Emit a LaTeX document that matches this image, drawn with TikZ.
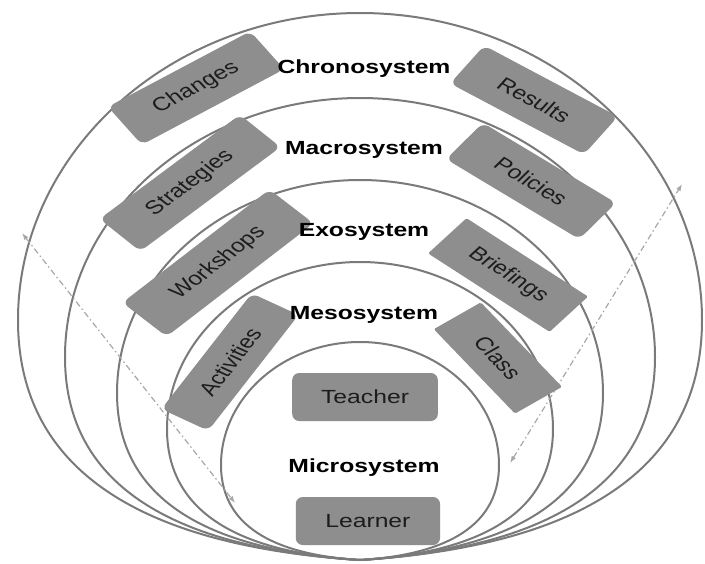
\documentclass[tikz,border=0pt]{standalone}
\usepackage{fontspec}
\setmainfont{Liberation Sans}
\usetikzlibrary{arrows.meta}
\definecolor{ringgray}{RGB}{122,122,122}
\definecolor{boxgray}{RGB}{142,142,142}
\definecolor{arrowgray}{RGB}{168,168,168}
\definecolor{inkgray}{RGB}{28,28,28}

\begin{document}
\begin{tikzpicture}[x=1pt, y=-1pt,
    ring/.style={draw=ringgray, line width=2pt},
    sysbox/.style={fill=boxgray, rounded corners=7pt, text=inkgray, minimum height=46pt,
        inner sep=0pt, font=\fontsize{19}{22}\selectfont, transform shape},
    sharpbox/.style={sysbox, rounded corners=1.5pt},
    syslabel/.style={font=\fontsize{19}{22}\selectfont\bfseries, transform shape},
    link/.style={draw=arrowgray, line width=1.2pt, dash pattern=on 6pt off 3pt on 1.5pt off 3pt,
        {Latex[length=7pt,width=5pt]}-{Latex[length=7pt,width=5pt]}}]

    \path[fill=white, use as bounding box] (0,0) rectangle (705,563);

    % top, half width, widest level of each ring; all meet at (360,560)
    \foreach \t/\w/\m in {13/342/320, 98/295/357, 180/243/393, 262/193/429, 342/139/465}
        \draw[ring] (360,560)
            .. controls ({360-0.55*\w},{560-0.05*(560-\m)}) and ({360-\w},{\m+0.7*(560-\m)}) .. ({360-\w},\m)
            .. controls ({360-\w},{\m-0.55*(\m-\t)}) and ({360-0.55*\w},\t) .. (360,\t)
            .. controls ({360+0.55*\w},\t) and ({360+\w},{\m-0.55*(\m-\t)}) .. ({360+\w},\m)
            .. controls ({360+\w},{\m+0.7*(560-\m)}) and ({360+0.55*\w},{560-0.05*(560-\m)}) .. (360,560) -- cycle;

    \begin{scope}[xscale=1.3]
        \coordinate (outerL) at (16.9,233);
        \coordinate (innerL) at (180.8,503);
        \coordinate (innerR) at (392.3,463);
        \coordinate (outerR) at (524.6,184);
        \draw[link] (outerL) -- (innerL);
        \draw[link] (innerR) -- (outerR);

        \node[sysbox, minimum width=133pt, rotate=34.6] (changes) at (150.8,88) {Changes};
        \node[sysbox, minimum width=125pt, rotate=-34.6] (results) at (410.8,100) {Results};
        \node[sysbox, minimum width=150pt, minimum height=45pt, rotate=44] (strategies) at (146.2,183) {Strategies};
        \node[sysbox, minimum width=130pt, rotate=-38] (policies) at (408.5,181) {Policies};
        \node[sysbox, minimum width=160pt, minimum height=48pt, rotate=45] (workshops) at (167.7,263) {Workshops};
        \node[sharpbox, minimum width=122pt, rotate=-40] (briefings) at (390.8,275) {Briefings};
        \node[sysbox, minimum width=135pt, minimum height=42pt, rotate=59] (activities) at (176.9,362) {Activities};
        \node[sharpbox, minimum width=105pt, minimum height=45pt, rotate=-53.5] (class) at (383,358) {Class};
        \node[sysbox, minimum width=112pt, minimum height=48pt] (teacher) at (280.8,397) {Teacher};
        \node[sysbox, minimum width=111pt, minimum height=48pt] (learner) at (283,521) {Learner};

        \node[syslabel] (chrono) at (280,69) {Chronosystem};
        \node[syslabel] (macro) at (280,150) {Macrosystem};
        \node[syslabel] (exo) at (280,232) {Exosystem};
        \node[syslabel] (meso) at (280,315) {Mesosystem};
        \node[syslabel] (micro) at (280,468) {Microsystem};
    \end{scope}
\end{tikzpicture}
\end{document}
